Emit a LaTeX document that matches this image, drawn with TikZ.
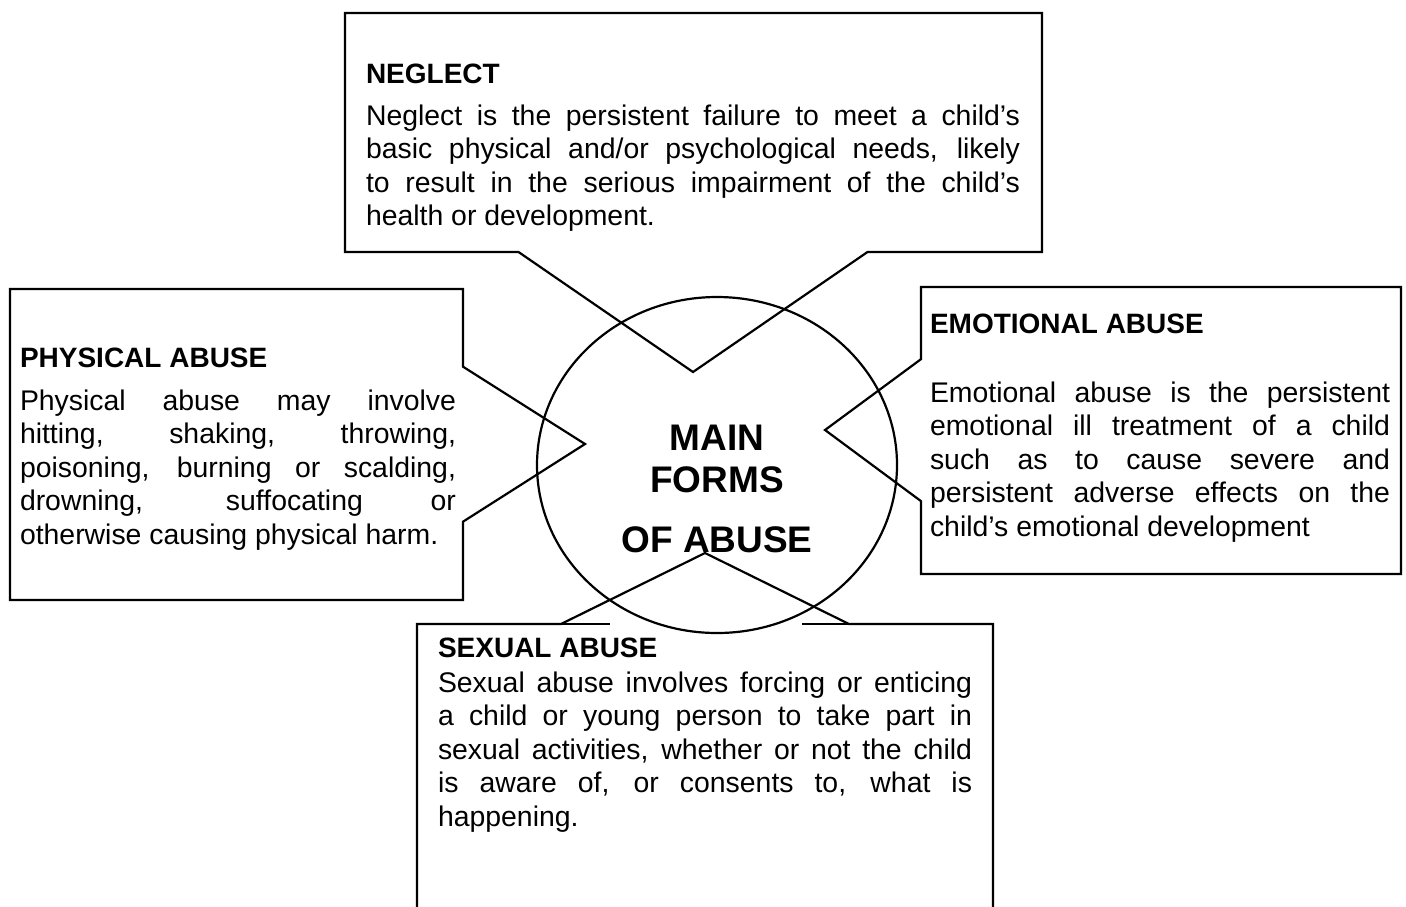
\documentclass[tikz,border=0pt]{standalone}
\usepackage{fontspec}
\setmainfont{Liberation Sans}
\usetikzlibrary{shapes.callouts, shapes.geometric}

\begin{document}
\begin{tikzpicture}[x=0.5pt, y=-0.5pt,
    every node/.style={inner sep=0pt, outer sep=0pt},
    box/.style={rectangle callout, draw, line width=1.1pt},
    heading/.style={anchor=base west, font=\fontsize{14}{16.8}\selectfont\bfseries},
    body/.style={anchor=base west, align=justify, font=\fontsize{14.2}{16.8}\selectfont}]
    % page frame
    \path[use as bounding box] (0,0) rectangle (1406,906);
    \clip (0,0) rectangle (1406,906);

    % the ellipse in the middle
    \node[ellipse, draw, line width=1.1pt,
        minimum width=180pt, minimum height=168pt] (core) at (717,465) {};
    \node[font=\fontsize{18.5}{21}\selectfont\bfseries, align=center,
        anchor=base] (title) at (717,552) {MAIN\\FORMS\\[9pt]OF ABUSE};

    % callouts pointing at the ellipse
    \node[box, minimum width=348.5pt, minimum height=119.5pt,
        callout pointer width=174.5pt,
        callout absolute pointer={(693,372)}] (neglect) at (693.5,132.5) {};
    \node[box, minimum width=226.5pt, minimum height=155.5pt,
        callout pointer width=77.5pt,
        callout absolute pointer={(585,444)}] (physical) at (236.5,444.5) {};
    \node[box, minimum width=240pt, minimum height=143.5pt,
        callout pointer width=71pt,
        callout absolute pointer={(825,430)}] (emotional) at (1161,430.5) {};
    \node[box, minimum width=288pt, minimum height=168pt,
        callout pointer width=144pt,
        callout absolute pointer={(705,553)}] (sexual) at (705,792) {};
    % leftover bits of the top edge
    \draw[line width=1.1pt] (sexual.north west) -- ++(193,0);
    \draw[line width=1.1pt] (sexual.north east) -- ++(-191,0);

    % texts
    \node[heading] (neglecthead) at (366,83) {NEGLECT};
    \node[body, text width=327pt] (neglecttext) at (366,125)
        {Neglect is the persistent failure to meet a child’s\linebreak
         basic physical and/or psychological needs, likely\linebreak
         to result in the serious impairment of the child’s\linebreak
         health or development.};

    \node[heading] (physicalhead) at (20,367) {PHYSICAL ABUSE};
    \node[body, text width=218pt] (physicaltext) at (20,410)
        {Physical abuse may involve\linebreak
         hitting, shaking, throwing,\linebreak
         poisoning, burning or scalding,\linebreak
         drowning, suffocating or\linebreak
         otherwise causing physical harm.};

    \node[heading] (emotionalhead) at (930,333) {EMOTIONAL ABUSE};
    \node[body, text width=230pt] (emotionaltext) at (930,402)
        {Emotional abuse is the persistent\linebreak
         emotional ill treatment of a child\linebreak
         such as to cause severe and\linebreak
         persistent adverse effects on the\linebreak
         child’s emotional development};

    \node[heading] (sexualhead) at (438,657) {SEXUAL ABUSE};
    \node[body, text width=267pt] (sexualtext) at (438,692)
        {Sexual abuse involves forcing or enticing\linebreak
         a child or young person to take part in\linebreak
         sexual activities, whether or not the child\linebreak
         is aware of, or consents to, what is\linebreak
         happening.};
\end{tikzpicture}
\end{document}
